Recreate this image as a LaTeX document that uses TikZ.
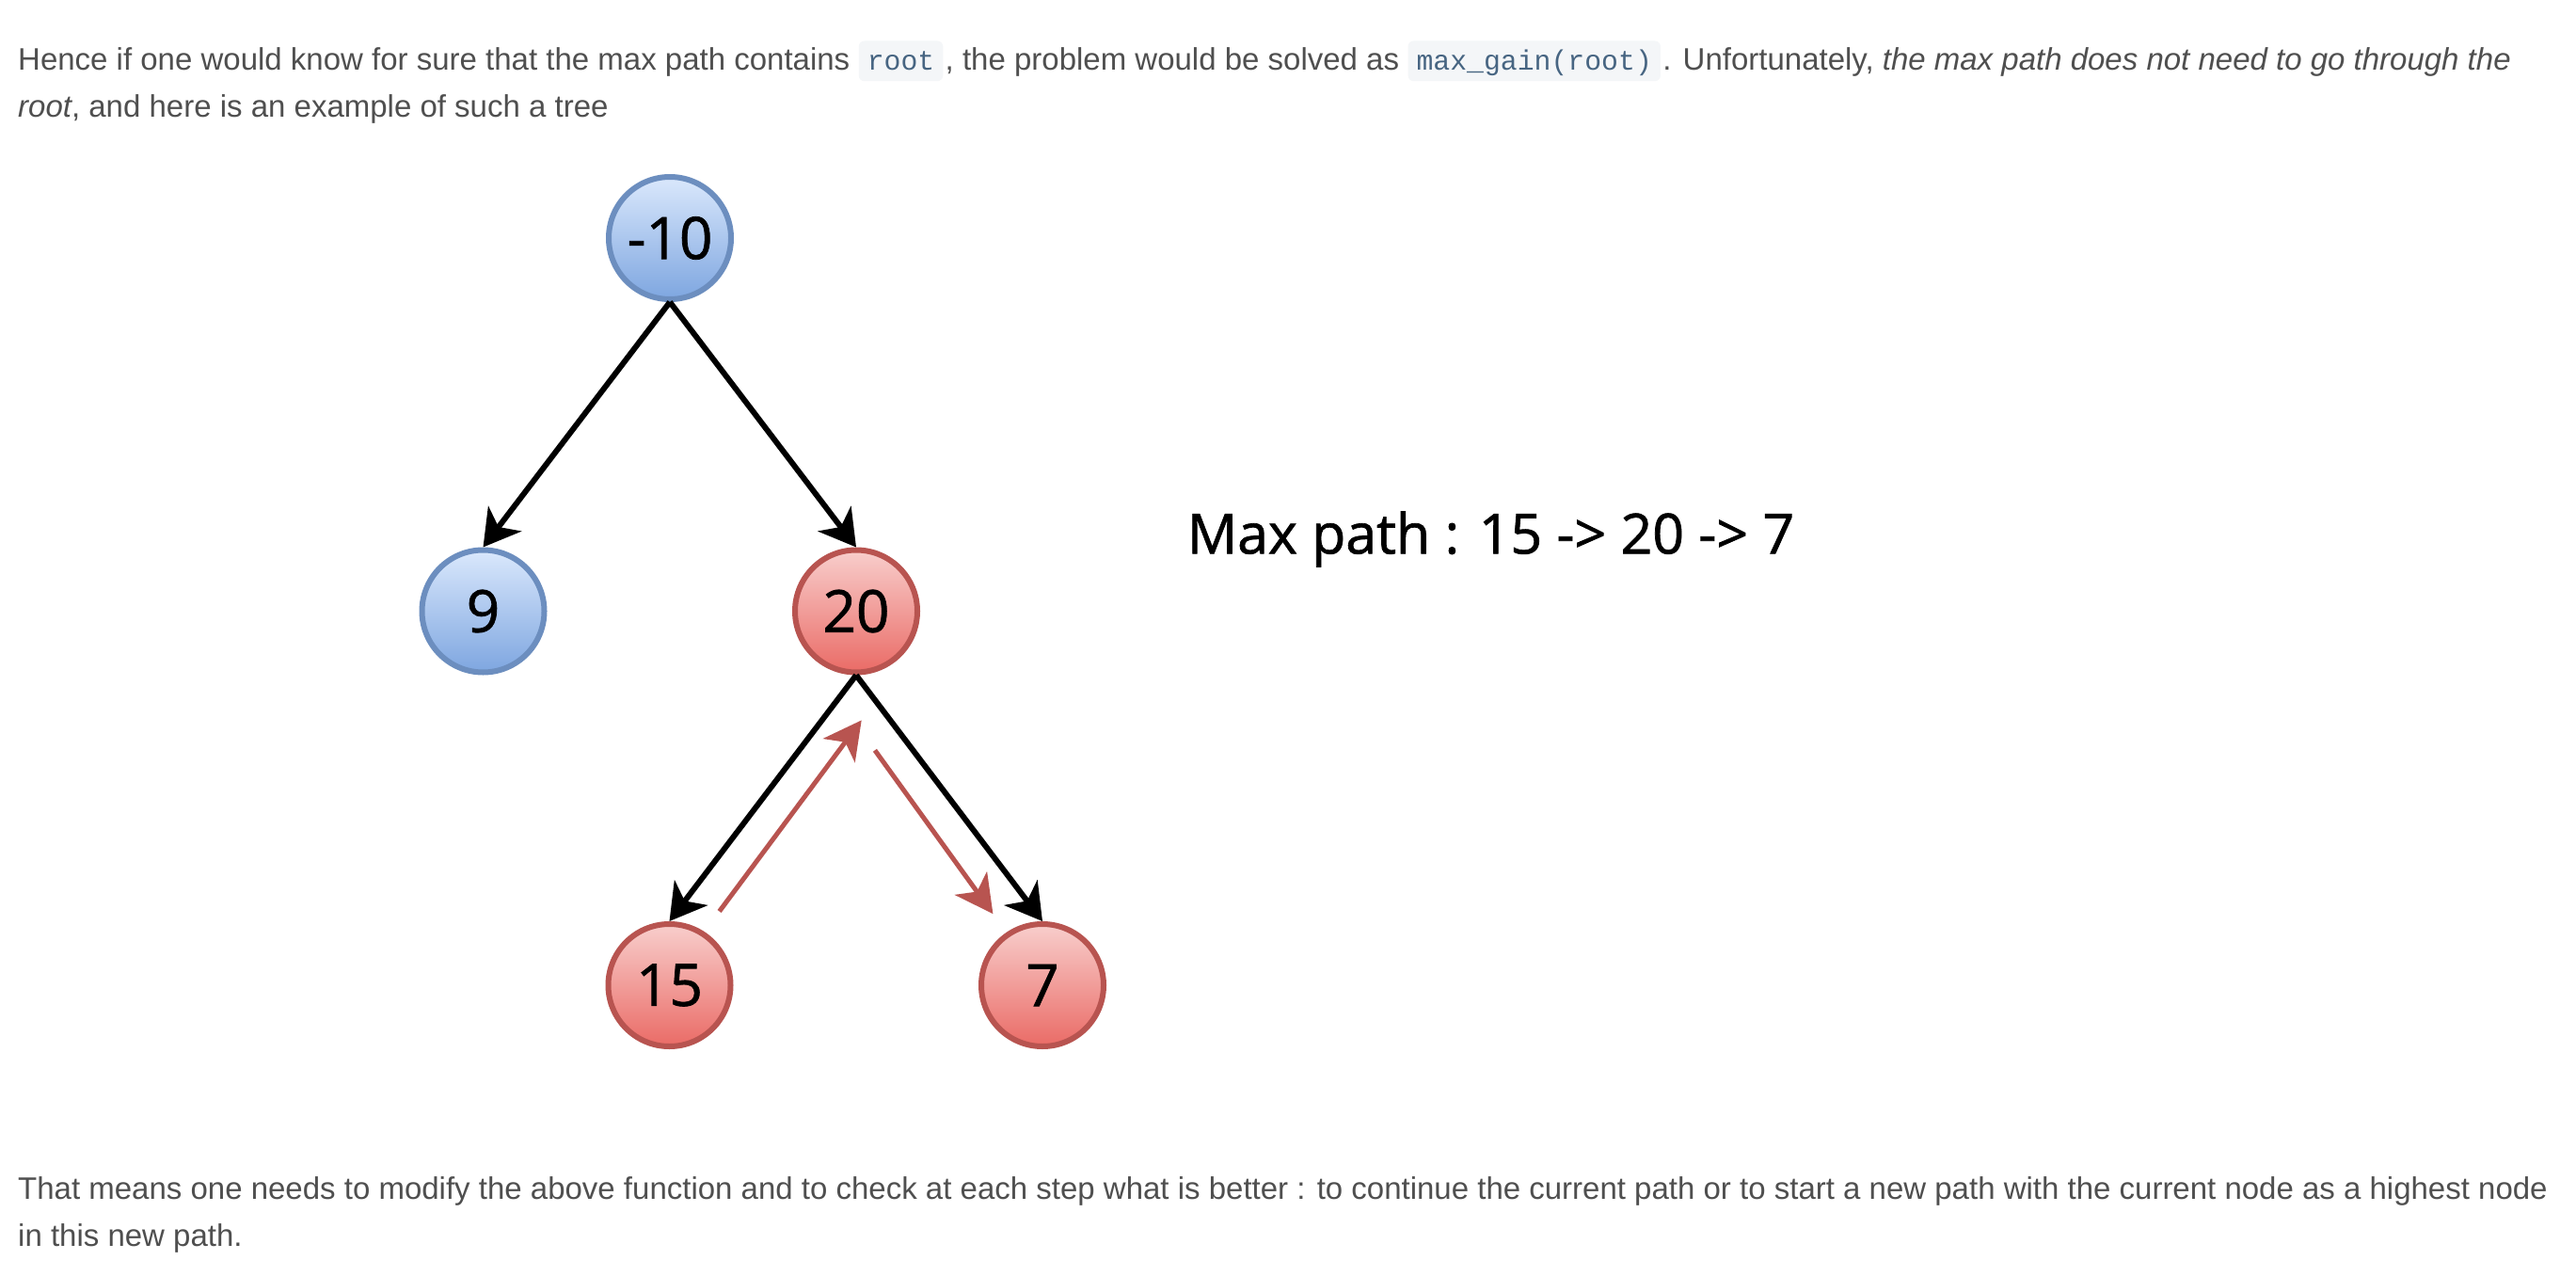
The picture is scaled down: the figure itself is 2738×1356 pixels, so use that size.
\documentclass[tikz,border=0pt]{standalone}
\usepackage{fontspec}
\setmainfont{Liberation Sans}
\setmonofont{Liberation Mono}
\newfontfamily\comicfont[FakeBold=1.2]{Open Sans}
\usetikzlibrary{arrows.meta}
\definecolor{bodytext}{HTML}{4F4F4F}
\definecolor{codetext}{HTML}{476582}
\definecolor{codebg}{HTML}{F4F6F8}
\definecolor{blueline}{HTML}{6C8EBF}
\definecolor{bluetop}{HTML}{DAE8FC}
\definecolor{bluebot}{HTML}{7EA6E0}
\definecolor{redline}{HTML}{B85450}
\definecolor{redtop}{HTML}{F8CECC}
\definecolor{redbot}{HTML}{EA6B66}
\tikzset{
  body/.style={font=\fontsize{33}{40}\selectfont, text=bodytext, inner sep=0pt, anchor=base west},
  code/.style={font=\ttfamily\fontsize{29.8}{36}\selectfont, text=codetext, fill=codebg,
    rounded corners=6pt, inner xsep=9pt, inner ysep=0pt, text height=31pt, text depth=11.7pt, anchor=base west},
  treenode/.style={circle, minimum size=130pt, inner sep=0pt, line width=6pt,
    font=\comicfont\fontsize{62}{62}\selectfont, text=black},
  bluenode/.style={treenode, draw=blueline, top color=bluetop, bottom color=bluebot},
  rednode/.style={treenode, draw=redline, top color=redtop, bottom color=redbot},
  edge/.style={draw=black, line width=6pt, -{Stealth[length=38pt,width=44pt,inset=11pt]}},
  redarrow/.style={draw=redline, line width=5pt, -{Stealth[length=40pt,width=42pt,inset=11pt]}},
  caption/.style={font=\comicfont\fontsize{59}{70}\selectfont, text=black, inner sep=0pt, anchor=base west}
}
\begin{document}
\begin{tikzpicture}[x=1pt,y=-1pt]
\useasboundingbox[fill=white] (0,0) rectangle (2738,1356);
% top paragraph
\node[body] (t1) at (19,74.5) {Hence if one would know for sure that the max path contains};
\node[code] (c1) at ([xshift=9pt]t1.base east) {root};
\node[body] (t2) at ([xshift=2pt]c1.base east) {, the problem would be solved as};
\node[code] (c2) at ([xshift=9pt]t2.base east) {max\_gain(root)};
\node[body] (t3) at ([xshift=2pt]c2.base east) {. Unfortunately, \textit{the max path does not need to go through the}};
\node[body] (t4) at (19,124.5) {\textit{root}, and here is an example of such a tree};
% tree
\node[bluenode] (root) at (712,253) {-10};
\node[bluenode] (nine) at (513.5,649.5) {9};
\node[rednode] (twenty) at (910,649.5) {20};
\node[rednode] (fifteen) at (711.5,1047) {15};
\node[rednode] (seven) at (1108,1047) {7};
\draw[edge] (root.south) -- (nine.north);
\draw[edge] (root.south) -- (twenty.north);
\draw[edge] (twenty.south) -- (fifteen.north);
\draw[edge] (twenty.south) -- (seven.north);
\coordinate (u1) at (764.6,968.5);
\coordinate (u2) at (915.7,765.4);
\coordinate (d1) at (929.9,797.3);
\coordinate (d2) at (1055.4,971.1);
\draw[redarrow] (u1) -- (u2);
\draw[redarrow] (d1) -- (d2);
\node[caption] (maxpath) at (1261.7,588.3) {Max path : 15 -> 20 -> 7};
% bottom paragraph
\node[body] (b1) at (19,1274) {That means one needs to modify the above function and to check at each step what is better : to continue the current path or to start a new path with the current node as a highest node};
\node[body] (b2) at (19,1324) {in this new path.};
\end{tikzpicture}
\end{document}
